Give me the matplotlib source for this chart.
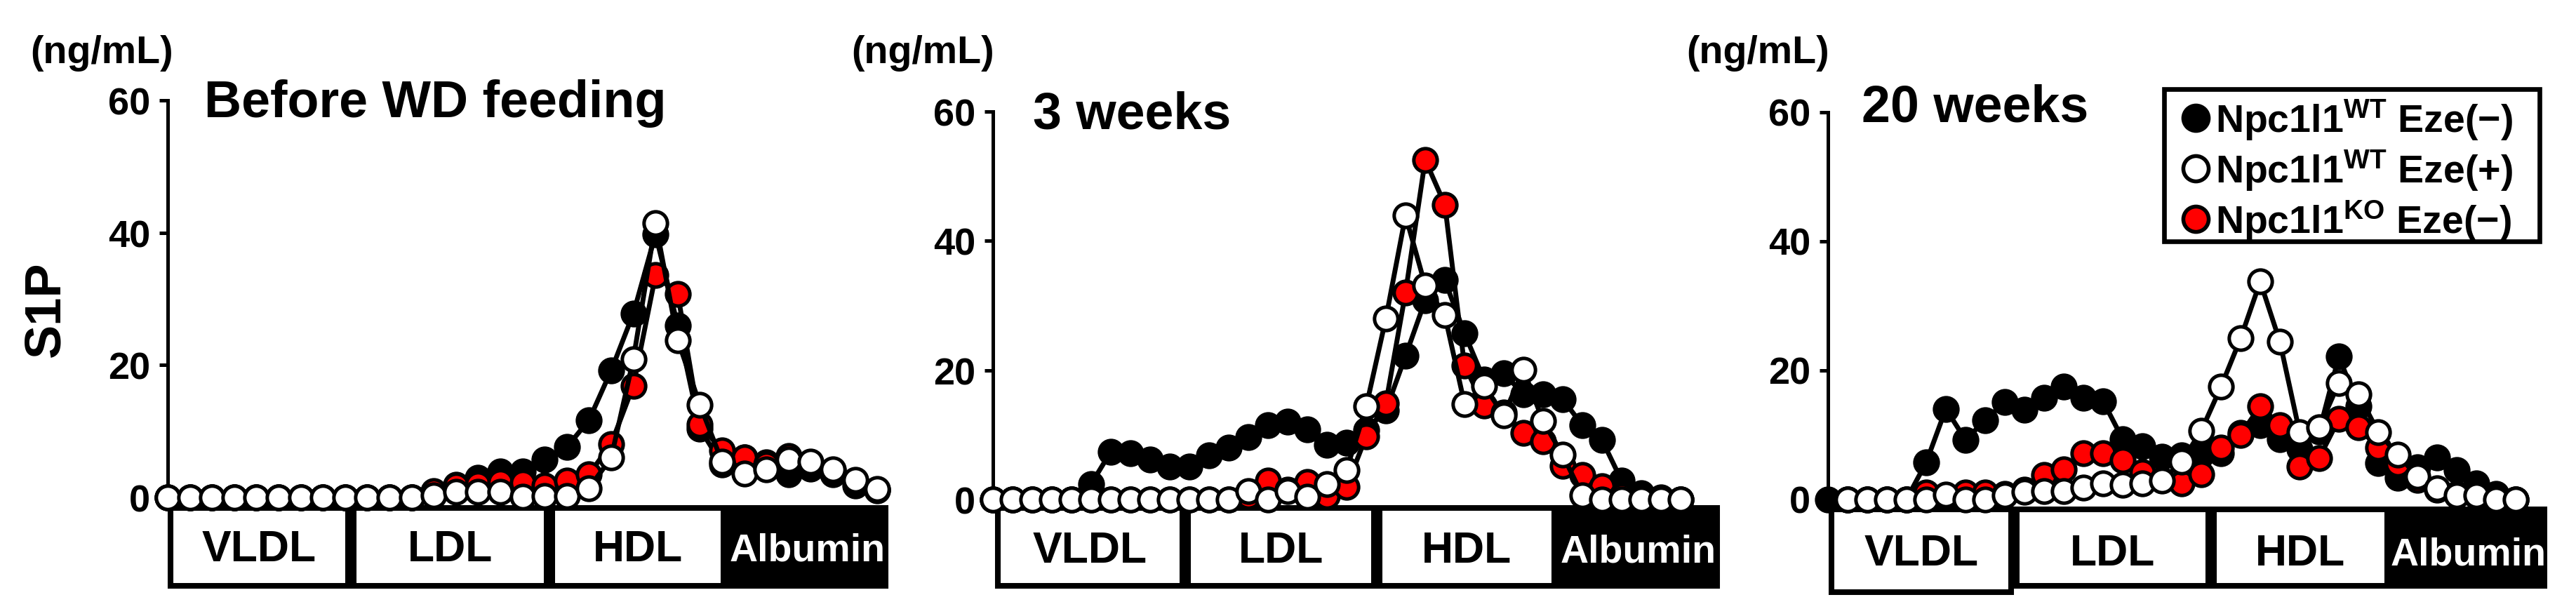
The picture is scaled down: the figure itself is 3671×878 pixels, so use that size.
import matplotlib
matplotlib.use('Agg')
import matplotlib.pyplot as plt
from matplotlib.patches import Rectangle
from matplotlib.lines import Line2D
import numpy as np

nan = np.nan

# ---------------- data ----------------
panel_titles = ["Before WD feeding", "3 weeks", "20 weeks"]
unit_label = "(ng/mL)"
y_label = "S1P"
y_ticks = [0, 20, 40, 60]
fraction_names = ["VLDL", "LDL", "HDL", "Albumin"]
legend_labels = [r"Npc1l1$^{\mathrm{WT}}$ Eze(−)",
                 r"Npc1l1$^{\mathrm{WT}}$ Eze(+)",
                 r"Npc1l1$^{\mathrm{KO}}$ Eze(−)"]

# Panel 1: before WD feeding (33 fractions)
wt_neg_1 = [0, 0, 0, 0, 0, 0, 0, 0, 0, 0, 0, 0,
            0.8, 1.9, 3.0, 3.9, 3.9, 5.7, 7.6, 11.7, 19.2, 27.8, 39.8, 26.0,
            10.4, 5.0, 6.0, 5.3, 3.5, 4.4, 3.5, 1.8, 1.1]
wt_pos_1 = [0, 0, 0, 0, 0, 0, 0, 0, 0, 0, 0, 0,
            0.3, 0.8, 0.9, 0.9, 0.1, 0.2, 0.2, 1.4, 6.0, 20.9, 41.5, 23.8,
            14.0, 5.4, 3.6, 4.2, 5.7, 5.4, 4.2, 2.7, 1.3]
ko_neg_1 = [0, 0, 0, 0, 0, 0, 0, 0, 0, 0, 0, 0,
            1.0, 1.8, 2.0, 2.3, 2.2, 1.8, 2.5, 3.5, 8.1, 16.9, 33.6, 30.8,
            11.0, 7.1, 6.0, 5.0, 6.3, 5.0, 4.0, 2.5, 1.2]

# Panel 2: 3 weeks (36 fractions)
wt_neg_2 = [0, 0, 0, 0, 0, 2.4, 7.4, 7.2, 6.2, 5.1, 5.1, 6.8, 8.0, 9.7,
            11.5, 12.0, 10.8, 8.5, 8.8, 10.7, 13.8, 22.2, 30.8, 33.9, 25.7,
            18.5, 19.5, 16.3, 16.3, 15.5, 11.5, 9.2, 2.9, 1.0, 0.3, 0]
wt_pos_2 = [0, 0, 0, 0, 0, 0, 0, 0, 0, 0, 0, 0, 0,
            1.3, 0, 1.3, 0.4, 2.4, 4.6, 14.4, 28.0, 43.9, 33.1, 28.5, 14.8,
            17.6, 13.0, 20.1, 12.1, 6.9, 0.6, 0, 0, 0, 0, 0]
ko_neg_2 = [0, 0, 0, 0, 0, 0, 0, 0, 0, 0, 0, 0, 0,
            0.5, 2.9, 1.5, 2.7, 0.5, 2.0, 9.8, 14.9, 32.0, 52.5, 45.6, 20.7,
            14.5, 13.5, 10.3, 9.0, 5.2, 3.8, 2.1, 0.5, 0, 0, 0]

# Panel 3: 20 weeks (36 fractions)
wt_neg_3 = [0, 0, 0, 0, 0, 5.7, 14.0, 9.2, 12.2, 15.1, 13.9, 15.7, 17.4,
            15.7, 15.2, 9.3, 8.2, 6.6, 6.8, 7.2, 7.1, 10.3, 11.5, 9.3, 7.8,
            10.5, 22.1, 14.4, 5.6, 3.3, 5.0, 6.5, 4.5, 2.5, 0.8, 0]
wt_pos_3 = [nan, 0, 0, 0, 0, 0, 0.7, 0, 0, 0.6, 1.1, 1.3, 1.2, 1.8, 2.4,
            2.2, 2.4, 2.9, 5.8, 10.6, 17.4, 24.9, 33.7, 24.4, 10.4, 11.1,
            18.0, 16.3, 10.4, 6.9, 3.5, 1.7, 0.6, 0.6, 0, 0]
ko_neg_3 = [nan, 0, 0, 0, 0, 1.0, 0.5, 1.0, 1.0, 0.8, 1.5, 3.8, 4.6, 7.1,
            7.1, 6.0, 4.2, 3.0, 2.5, 3.9, 8.0, 10.0, 14.4, 11.5, 5.1, 6.4,
            12.4, 11.1, 8.0, 5.5, 3.0, 1.5, 0.8, 0.5, 0, 0]

# fraction-region boundaries (in fraction-number units)
regions_1 = [0, 8.26, 17.2, 25.2, 32.5]
regions_2 = [0.1, 9.79, 19.54, 28.7, 37.0]
regions_3 = [0.04, 9.46, 19.5, 28.6, 36.6]

# ---------------- layout (pixels of the 3671x879 canvas) ----------------
W, H = 3671, 879
plt.rcParams['font.family'] = ['Liberation Sans', 'DejaVu Sans']
plt.rcParams['font.weight'] = 'bold'
plt.rcParams['mathtext.fontset'] = 'custom'
plt.rcParams['mathtext.rm'] = 'Liberation Sans:bold'
plt.rcParams['mathtext.bf'] = 'Liberation Sans:bold'
plt.rcParams['mathtext.it'] = 'Liberation Sans:bold'

fig = plt.figure(figsize=(W / 100, H / 100), dpi=100)


def fx(px):
    return px / W


def fy(py):
    return 1 - py / H


layouts = [
    dict(axis=239, y0=710.0, ppy=9.43, ppx=31.6, xmax=32.6,
         title_x=291, title_base=167, unit_right=247,
         box_top=724.5, box_bot=835.5, vldl_bot=835.5, label_base=800),
    dict(axis=1415, y0=713.0, ppy=9.22, ppx=28.0, xmax=37.1,
         title_x=1472, title_base=183, unit_right=1417,
         box_top=724.5, box_bot=835.5, vldl_bot=835.5, label_base=802),
    dict(axis=2605, y0=712.5, ppy=9.2, ppx=28.0, xmax=36.7,
         title_x=2653, title_base=174, unit_right=2607,
         box_top=726.5, box_bot=835.5, vldl_bot=844.5, label_base=806),
]

series = [
    (wt_neg_1, wt_pos_1, ko_neg_1, regions_1),
    (wt_neg_2, wt_pos_2, ko_neg_2, regions_2),
    (wt_neg_3, wt_pos_3, ko_neg_3, regions_3),
]

YMIN, YMAX = -16, 62
MS, MEW, LW = 24, 3.6, 5.0
RED = '#ff0000'

for k, (L, (blk, wht, red, regs)) in enumerate(zip(layouts, series)):
    top_px = L['y0'] - YMAX * L['ppy']
    bot_px = L['y0'] - YMIN * L['ppy']
    rect = [fx(L['axis']), fy(bot_px), L['xmax'] * L['ppx'] / W,
            (bot_px - top_px) / H]
    ax = fig.add_axes(rect)
    ax.set_xlim(0, L['xmax'])
    ax.set_ylim(YMIN, YMAX)
    ax.patch.set_visible(False)
    for s in ('top', 'right', 'bottom'):
        ax.spines[s].set_visible(False)
    ax.spines['left'].set_bounds(0, 60)
    ax.spines['left'].set_linewidth(3.6)
    ax.set_xticks([])
    ax.set_yticks(y_ticks)
    ax.set_yticklabels([str(t) for t in y_ticks])
    ax.tick_params(axis='y', length=8.3, width=3.6, pad=9.4,
                   labelsize=39, direction='out')
    for lbl in ax.get_yticklabels():
        lbl.set_fontweight('bold')

    x = np.arange(len(blk))
    ax.plot(x, blk, '-o', color='black', lw=LW, ms=MS, mfc='black',
            mec='black', mew=MEW, clip_on=False, zorder=3)
    ax.plot(x, red, '-o', color='black', lw=LW, ms=MS, mfc=RED,
            mec='black', mew=MEW, clip_on=False, zorder=4)
    ax.plot(x, wht, '-o', color='black', lw=LW, ms=MS, mfc='white',
            mec='black', mew=MEW, clip_on=False, zorder=5)

    # fraction boxes
    gap = 4.0 / L['ppx']
    top_v = (L['y0'] - L['box_top']) / L['ppy']
    for j, name in enumerate(fraction_names):
        x0 = regs[j] + gap
        x1 = regs[j + 1] - gap
        bpx = L['vldl_bot'] if j == 0 else L['box_bot']
        bot_v = (L['y0'] - bpx) / L['ppy']
        is_alb = (name == "Albumin")
        ax.add_patch(Rectangle((x0, bot_v), x1 - x0, top_v - bot_v,
                               facecolor='black' if is_alb else 'white',
                               edgecolor='black', lw=5.8, clip_on=False,
                               zorder=2))
        base_v = (L['y0'] - L['label_base']) / L['ppy']
        ax.text((x0 + x1) / 2, base_v, name, ha='center', va='baseline',
                fontsize=40 if is_alb else 45, fontweight='bold',
                color='white' if is_alb else 'black', zorder=6,
                clip_on=False)

    # panel title and unit
    fig.text(fx(L['title_x']), fy(L['title_base']), panel_titles[k],
             fontsize=53, fontweight='bold', ha='left', va='baseline')
    fig.text(fx(L['unit_right']), fy(90), unit_label, fontsize=40,
             fontweight='bold', ha='right', va='baseline')

# y label
fig.text(fx(65), fy(441), y_label, rotation=90, fontsize=52,
         fontweight='bold', ha='center', va='center')

# legend (drawn in pixel positions)
fig.add_artist(Rectangle((fx(3084), fy(345)), fx(3619) - fx(3084),
                         fy(128) - fy(345), transform=fig.transFigure,
                         fill=False, lw=4.8, edgecolor='black'))
leg_faces = ['black', 'white', RED]
for r, (lab, fc) in enumerate(zip(legend_labels, leg_faces)):
    ry = 169 + r * 72
    fig.add_artist(Line2D([fx(3129)], [fy(ry)], marker='o', ms=26,
                          mfc=fc, mec='black', mew=4.0, linestyle='none',
                          transform=fig.transFigure))
    fig.text(fx(3157), fy(ry + 20), lab, fontsize=40, fontweight='bold',
             ha='left', va='baseline')

fig.savefig('out.png', dpi=100)
